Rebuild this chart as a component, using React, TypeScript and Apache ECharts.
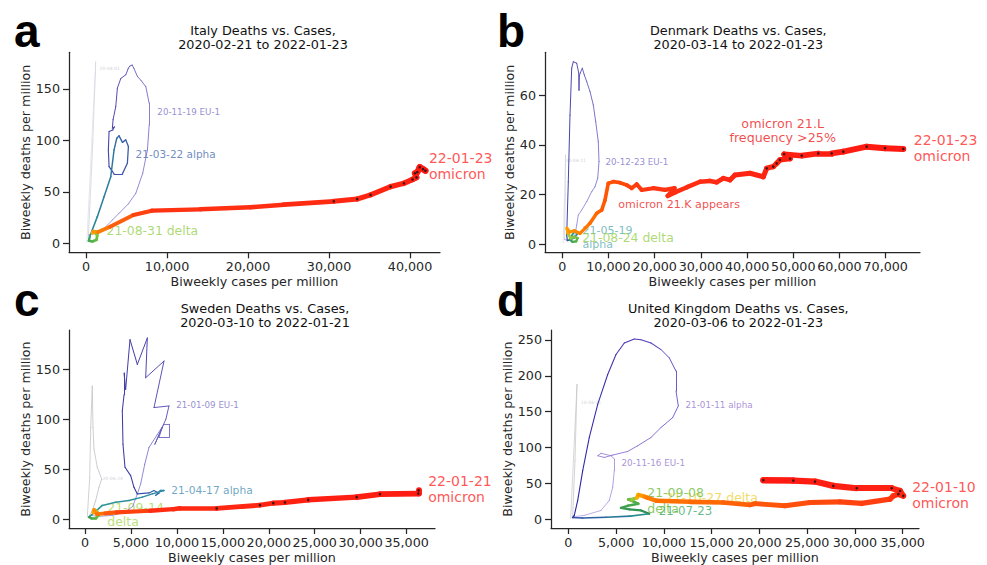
import React, { useEffect, useRef } from "react";
import * as echarts from "echarts";

type Pt = [number, number];

// ===================== DATA (x = biweekly cases per million, y = biweekly deaths per million) =====================
// ---- Italy ----
const italyWave1: Pt[] = [[100, 1], [1200, 176], [1150, 165], [850, 100], [500, 40], [300, 8]];
const italyEU1: Pt[] = [[300, 8], [2020, 12.9], [3257, 22.6], [4082, 29.2], [5200, 38], [6148, 48.6], [7000, 68], [7583, 90.7], [7800, 115], [7793, 136], [7385, 152], [6800, 158], [6346, 162], [5900, 170], [5700, 173], [5400, 172], [5233, 170], [4911, 163.6], [4292, 160], [3872, 150.6], [3674, 132.8], [3340, 120], [3253, 111.8]];
const italyAlpha: Pt[] = [[3253, 111.8], [3500, 113], [3300, 110], [2845, 108.5], [2759, 90.7], [2845, 74.5], [3464, 67.4], [4490, 67.4], [5109, 77.8], [5233, 93.9], [4911, 100.4], [4500, 98], [4082, 104.3], [3797, 102], [3464, 90.7], [3056, 64.7], [2227, 45.3], [1398, 25.9], [458, 6.4]];
const italyDelta: Pt[] = [[458, 6.4], [350, 2.5], [800, 1.8], [1300, 3.5], [1400, 8], [1000, 11], [800, 10]];
const italyOmicron: Pt[] = [[800, 10], [903, 11.3], [1500, 11], [2969, 16.1], [5851, 27.5], [8127, 31.7], [14100, 33], [20287, 35], [24410, 37.5], [30590, 40.8], [33480, 43], [35130, 47], [37600, 55], [39250, 58.3], [40300, 62], [40800, 64], [40600, 68], [40900, 69], [41200, 74], [41600, 72], [41900, 70.5]];
const italyXTicks = [0, 10000, 20000, 30000, 40000];
const italyYTicks = [0, 50, 100, 150];
const italyNotes = [
  { text: "20-04-01", x: 1608, y: 169.4, kind: "tiny" },
  { text: "20-11-19 EU-1", x: 8746, y: 127.6, kind: "eu1" },
  { text: "21-03-22 alpha", x: 6061, y: 87.1, kind: "alphaBlue" },
  { text: "21-08-31 delta", x: 2474, y: 12.6, kind: "delta" },
  { text: "22-01-23\nomicron", x: 42268, y: 75.1, kind: "omicron" },
];

// ---- Denmark ----
const denWave1: Pt[] = [[200, 0.5], [700, 36], [650, 20], [500, 2]];
const denEU1: Pt[] = [[500, 2], [952, 1.7], [2000, 2.5], [2749, 3.7], [3117, 7.8], [3463, 11.8], [4199, 13.8], [5282, 17.2], [6364, 21.2], [7078, 23.2], [7662, 26.6], [7944, 33.3], [7792, 41.3], [7229, 49.4], [6710, 56.1], [5996, 61.5], [5282, 65.5], [4762, 68.2], [4329, 70.9], [3900, 69], [3700, 68], [3615, 62], [3550, 69], [3117, 72.9], [2381, 73.5], [2035, 70.9], [1667, 52], [1299, 25.2], [952, 3.7]];
const denAlpha: Pt[] = [[952, 3.7], [1100, 1.5], [1800, 1.8], [2500, 2.5], [3200, 4], [2800, 5.5], [2200, 4], [1600, 2]];
const denDelta: Pt[] = [[1600, 2], [2200, 1], [3000, 1.2], [3300, 2.5], [2600, 3], [1800, 2.5], [1200, 4.5]];
const denOmicron: Pt[] = [[1200, 4.5], [1000, 6.5], [1600, 5], [2600, 5.5], [3831, 4.4], [4913, 6.4], [5996, 8.5], [7446, 12.5], [8528, 13.8], [9242, 17.8], [9957, 24.6], [11039, 25.2], [12482, 24.8], [13925, 23.9], [15016, 22.6], [16104, 24.2], [17186, 21.9], [19697, 22.6], [22230, 21.9], [24300, 22.6], [22800, 19.5], [24500, 21], [27000, 23], [29805, 25.2], [31972, 25.5], [33419, 25], [34848, 26.6], [36298, 25.9], [37380, 27.9], [40627, 28.6], [43506, 27.2], [44242, 30.6], [45673, 31.3], [46404, 32.6], [47120, 34], [49300, 34.5], [48000, 36.3], [51820, 35.7], [55410, 36.6], [58310, 36.6], [60820, 37.3], [65880, 39.3], [69850, 38.7], [73810, 38.4]];
const denXTicks = [0, 10000, 20000, 30000, 40000, 50000, 60000, 70000];
const denYTicks = [0, 20, 40, 60];
const denNotes = [
  { text: "20-04-11", x: 584, y: 33.9, kind: "tiny" },
  { text: "20-12-23 EU-1", x: 9242, y: 33.3, kind: "eu1" },
  { text: "21-05-19\nalpha", x: 4264, y: 2.9, kind: "alphaTeal" },
  { text: "21-08-24 delta", x: 4199, y: 2.7, kind: "delta" },
  { text: "omicron 21.K appears", x: 11991, y: 16.1, kind: "variant" },
  { text: "omicron 21.L\nfrequency >25%", x: 47705, y: 46, kind: "variantCenter" },
  { text: "22-01-23\nomicron", x: 75974, y: 38.8, kind: "omicron" },
];

// ---- Sweden ----
const sweWave1: Pt[] = [[250, 2.3], [511, 42], [620, 91.7], [794, 133], [870, 91.7], [979, 70], [1338, 52], [1817, 40.3], [1523, 32], [1164, 18.9], [794, 8.9], [500, 4]];
const sweEU1: Pt[] = [[500, 4], [1500, 3], [3000, 4], [4300, 7], [5200, 13], [5694, 25.4], [6057, 35.4], [6500, 55], [6963, 71.8], [8596, 95], [9139, 95], [9139, 81.8], [8051, 81.8], [8415, 92], [7600, 75], [8800, 100], [9139, 113.2], [7507, 111.6], [8596, 158], [6604, 141.4], [6782, 181], [5694, 154.6], [4896, 179.4], [4424, 129.7], [4250, 146], [4250, 124.5], [4060, 108.3], [4134, 75], [4352, 52], [4972, 43.7], [5331, 32], [5694, 25.4]];
const sweAlpha: Pt[] = [[5694, 25.4], [6963, 26.4], [7507, 28.8], [8051, 26.1], [7700, 24], [8200, 29], [8596, 28.8], [7325, 25.5], [6234, 22.2], [4787, 18.9], [3340, 17.2], [1882, 13.9], [1338, 9.5], [435, 2.3]];
const sweDelta: Pt[] = [[435, 2.3], [700, 1.2], [1200, 1.5], [1500, 4], [1300, 8], [900, 7]];
const sweOmicron: Pt[] = [[900, 7], [1000, 9.5], [1273, 5.3], [2200, 6], [3449, 7], [7072, 8.6], [9607, 10.2], [10300, 11], [14329, 10.9], [19040, 14.2], [20487, 16.2], [21760, 16.9], [24295, 19.5], [29560, 22.2], [32096, 25.1], [36267, 25.8], [36300, 29]];
const sweXTicks = [0, 5000, 10000, 15000, 20000, 25000, 30000, 35000];
const sweYTicks = [0, 50, 100, 150];
const sweNotes = [
  { text: "20-06-24", x: 1850, y: 41, kind: "tiny" },
  { text: "21-01-09 EU-1", x: 9868, y: 113.8, kind: "eu1" },
  { text: "21-04-17 alpha", x: 9324, y: 28.8, kind: "alphaTealBlue" },
  { text: "21-09-14\ndelta", x: 2361, y: 4.8, kind: "deltaBig" },
  { text: "22-01-21\nomicron", x: 37286, y: 30.1, kind: "omicron" },
];

// ---- United Kingdom ----
const ukWave1: Pt[] = [[250, 1], [911, 188], [701, 81.5], [450, 3]];
const ukEU1: Pt[] = [[450, 3], [1675, 5.1], [3423, 12], [4291, 26], [4647, 44.4], [4815, 67.6], [4815, 83.8], [4469, 88.4], [3423, 91.7], [3077, 88.4], [3768, 86], [4647, 89.3], [6217, 94.4], [7264, 102.3], [8656, 113.9], [9703, 127.8], [10928, 141.7], [11514, 157.9], [11273, 178.7], [11273, 206.5], [10571, 225], [9703, 236.6], [8656, 245.8], [7610, 250.4], [6908, 251.4], [5862, 245.8], [4993, 229.6], [4124, 201.8], [3077, 160.1], [2198, 113.9], [1507, 67.6], [984, 26], [628, 5.1]];
const ukAlphaTail: Pt[] = [[628, 5.1], [450, 2], [1500, 1.5], [4000, 2.5], [6500, 4], [8480, 7.4]];
const ukDelta: Pt[] = [[8480, 7.4], [7610, 12], [6385, 13.4], [5516, 15.7], [6217, 18.5], [7327, 21.3], [6741, 25], [6280, 27.3], [6908, 28.2], [6600, 26.5], [7200, 30]];
const ukOmicron: Pt[] = [[7200, 30], [7327, 33.8], [7950, 31.5], [8206, 30.1], [9253, 25.4], [12738, 24], [16224, 23.1], [19016, 19.9], [19600, 21.5], [22682, 18.5], [25299, 23.1], [28439, 24], [30710, 21.8], [33671, 27.8], [34019, 32.4], [34541, 34.7], [35064, 32.4], [34720, 39.3], [33850, 43], [30190, 43], [27740, 46.3], [25823, 52.3], [23551, 53.7], [20411, 54.2]];
const ukXTicks = [0, 5000, 10000, 15000, 20000, 25000, 30000, 35000];
const ukYTicks = [0, 50, 100, 150, 200, 250];
const ukNotes = [
  { text: "20-04-21", x: 1256, y: 162.5, kind: "tiny" },
  { text: "21-01-11 alpha", x: 12215, y: 159.7, kind: "eu1Purple" },
  { text: "20-11-16 EU-1", x: 5516, y: 77.8, kind: "eu1Purple" },
  { text: "21-10-27 delta", x: 10121, y: 30.1, kind: "deltaYellow" },
  { text: "21-07-23", x: 9420, y: 10.7, kind: "deltaDark" },
  { text: "21-09-08\ndelta", x: 8206, y: 26, kind: "deltaUK" },
  { text: "22-01-10\nomicron", x: 35943, y: 33.3, kind: "omicron" },
];

// ===================== STYLES =====================
const FONT = "'DejaVu Sans', sans-serif";
const INK = "#262626";

const NOTE_STYLE: Record<string, any> = {
  tiny: { color: "#c4c4cc", size: 4.5, lh: 6 },
  eu1: { color: "#7a6fc6", size: 8.7, lh: 10 },
  eu1Purple: { color: "#9276cc", size: 8.8, lh: 10 },
  alphaBlue: { color: "#4a6eb0", size: 10.5, lh: 12 },
  alphaTeal: { color: "#5aaeb0", size: 11, lh: 14.3 },
  alphaTealBlue: { color: "#4a8fb4", size: 10.7, lh: 12 },
  delta: { color: "#98d050", size: 12.4, lh: 14 },
  deltaBig: { color: "#a8d658", size: 12.5, lh: 14.4 },
  deltaYellow: { color: "#eed23a", size: 12.5, lh: 14 },
  deltaDark: { color: "#3ea868", size: 11.8, lh: 14 },
  deltaUK: { color: "#6cbc3c", size: 12.5, lh: 16 },
  variant: { color: "#ee1c1c", size: 11.1, lh: 13 },
  variantCenter: { color: "#ee1c1c", size: 12.7, lh: 14, center: true },
  omicron: { color: "#ff2a2a", size: 14, lh: 16 },
};

const GRAYS = ["#d8d8e0", "#c6c6d6"];

const PANELS = [
  {
    title: ["Italy Deaths vs. Cases,", "2020-02-21 to 2022-01-23"], titleX: 263, titleY: 30, letter: "a", letterX: 14, letterY: 31,
    grid: { left: 69, top: 52.3, width: 371, height: 200 }, xr: [-2100, 43700], yr: [-8.7, 185.4],
    xt: italyXTicks, yt: italyYTicks, yGap: 36, notes: italyNotes,
    phases: [
      { pts: italyWave1, colors: GRAYS, widths: [0.6, 0.7] },
      { pts: italyEU1, colors: ["#9088d4", "#7a70c8", "#6058b8", "#4a40a8"], widths: [0.8, 1.0] },
      { pts: italyAlpha, colors: ["#4a40a8", "#3a5aac", "#2a8a96"], widths: [1.0, 1.6] },
      { pts: italyDelta, colors: ["#2a9a70", "#60bb40", "#a0d040"], widths: [2.2, 3.2] },
      { pts: italyOmicron, colors: ["#f5c000", "#ff3412", "#ff2612", "#ff2012", "#ff1a12"], widths: [3.5, 6.5], dotsFrom: 9 },
    ],
  },
  {
    title: ["Denmark Deaths vs. Cases,", "2020-03-14 to 2022-01-23"], titleX: 738.3, titleY: 30, letter: "b", letterX: 497, letterY: 31,
    grid: { left: 545, top: 52.3, width: 375, height: 200 }, xr: [-3745, 77424], yr: [-3.2, 77.3],
    xt: denXTicks, yt: denYTicks, yGap: 28, notes: denNotes,
    phases: [
      { pts: denWave1, colors: GRAYS, widths: [0.6, 0.7] },
      { pts: denEU1, colors: ["#a098dc", "#7e76cc", "#5a50b8", "#4040a8"], widths: [0.8, 1.0] },
      { pts: denAlpha, colors: ["#3a48a4", "#2f8a9a", "#2ea080"], widths: [1.2, 1.8] },
      { pts: denDelta, colors: ["#2f9a5a", "#60b840", "#a8d040"], widths: [2.0, 3.0] },
      { pts: denOmicron, colors: ["#ffa800", "#ff5a00", "#ff3412", "#ff2812", "#ff2012", "#ff1a12"], widths: [3.0, 6.0], dotsFrom: 31 },
    ],
  },
  {
    title: ["Sweden Deaths vs. Cases,", "2020-03-10 to 2022-01-21"], titleX: 265, titleY: 308.3, letter: "c", letterX: 14, letterY: 300,
    grid: { left: 69, top: 330, width: 366, height: 199 }, xr: [-1741, 38085], yr: [-8.6, 189],
    xt: sweXTicks, yt: sweYTicks, yGap: 36, notes: sweNotes,
    phases: [
      { pts: sweWave1, colors: ["#c8c8c8", "#b8b8c8"], widths: [0.8, 0.8] },
      { pts: sweEU1, colors: ["#9a92d8", "#7068c4", "#4a42ac", "#3a3aa0"], widths: [0.8, 1.1] },
      { pts: sweAlpha, colors: ["#3a50a8", "#2f8aa6", "#2a9a8a"], widths: [1.1, 1.7] },
      { pts: sweDelta, colors: ["#2f9a5a", "#60b840", "#a8d040"], widths: [2.2, 3.2] },
      { pts: sweOmicron, colors: ["#ffb000", "#ff2c12", "#ff2212", "#ff1a12"], widths: [3.5, 6.0], dotsFrom: 8 },
    ],
  },
  {
    title: ["United Kingdom Deaths vs. Cases,", "2020-03-06 to 2022-01-23"], titleX: 738.3, titleY: 308.3, letter: "d", letterX: 497, letterY: 300,
    grid: { left: 551, top: 330, width: 368, height: 199 }, xr: [-1811, 36707], yr: [-12.5, 263.9],
    xt: ukXTicks, yt: ukYTicks, yGap: 36, notes: ukNotes,
    phases: [
      { pts: ukWave1, colors: ["#c8c8c8", "#bcbcc8"], widths: [0.7, 0.7] },
      { pts: ukEU1, colors: ["#b0a0e0", "#9a80d8", "#7a60cc", "#4a38b4", "#2420a0"], widths: [0.8, 1.1] },
      { pts: ukAlphaTail, colors: ["#2020a0", "#2a60a4", "#2a9a8a"], widths: [1.3, 1.8] },
      { pts: ukDelta, colors: ["#2a8a5a", "#48a84a", "#9ccc3a"], widths: [2.0, 3.2] },
      { pts: ukOmicron, colors: ["#ffb800", "#ff7400", "#ff5a08", "#ff4410", "#ff2c12", "#ff2012", "#ff1a12"], widths: [4.0, 6.5], dotsFrom: 15 },
    ],
  },
];

// ===================== HELPERS =====================
function hexToRgb(h: string): number[] {
  const n = parseInt(h.slice(1), 16);
  return [(n >> 16) & 255, (n >> 8) & 255, n & 255];
}
function mix(stops: string[], t: number): string {
  if (stops.length === 1) return stops[0];
  const k = (stops.length - 1) * Math.max(0, Math.min(1, t));
  const i = Math.min(Math.floor(k), stops.length - 2);
  const f = k - i;
  const a = hexToRgb(stops[i]);
  const b = hexToRgb(stops[i + 1]);
  const c = a.map((v, j) => Math.round(v + (b[j] - v) * f));
  return `rgb(${c[0]},${c[1]},${c[2]})`;
}
const fmt = (v: number) => v.toLocaleString("en-US");

function buildOption() {
  const grid: any[] = [];
  const xAxis: any[] = [];
  const yAxis: any[] = [];
  const series: any[] = [];
  const graphic: any[] = [];

  PANELS.forEach((p, idx) => {
    grid.push({ ...p.grid, containLabel: false });
    const axisCommon = {
      type: "value",
      gridIndex: idx,
      splitLine: { show: false },
      axisLine: { show: true, onZero: false, lineStyle: { color: INK, width: 1.25 } },
      nameLocation: "middle",
      nameTextStyle: { fontFamily: FONT, fontSize: 12.7, color: INK },
    };
    xAxis.push({
      ...axisCommon,
      min: p.xr[0],
      max: p.xr[1],
      name: "Biweekly cases per million",
      nameGap: 23,
      axisTick: { show: true, customValues: p.xt, length: 6, lineStyle: { color: INK, width: 1.25 } },
      axisLabel: { customValues: p.xt, formatter: fmt, fontFamily: FONT, fontSize: 12.7, color: INK, margin: 8 },
    });
    yAxis.push({
      ...axisCommon,
      min: p.yr[0],
      max: p.yr[1],
      name: "Biweekly deaths per million",
      nameGap: p.yGap,
      axisTick: { show: true, customValues: p.yt, length: 6, lineStyle: { color: INK, width: 1.25 } },
      axisLabel: { customValues: p.yt, formatter: fmt, fontFamily: FONT, fontSize: 12.7, color: INK, margin: 9 },
    });

    // trajectory segments coloured by time
    const segs: any[] = [];
    const dots: Pt[] = [];
    p.phases.forEach((ph: any) => {
      const n = ph.pts.length;
      for (let i = 0; i < n - 1; i++) {
        const t = n > 2 ? (i + 0.5) / (n - 1) : 0.5;
        const w = ph.widths[0] + (ph.widths[1] - ph.widths[0]) * t;
        segs.push({
          coords: [ph.pts[i], ph.pts[i + 1]],
          lineStyle: { color: mix(ph.colors, t), width: w, opacity: 1, cap: "round", curveness: 0 },
        });
      }
      if (ph.dotsFrom != null) {
        for (let i = ph.dotsFrom; i < n; i++) dots.push(ph.pts[i]);
      }
    });

    // annotations (below lines)
    series.push({
      type: "scatter",
      xAxisIndex: idx,
      yAxisIndex: idx,
      z: 1,
      silent: true,
      symbolSize: 1,
      itemStyle: { color: "rgba(0,0,0,0)" },
      data: p.notes.map((nt: any) => {
        const st = NOTE_STYLE[nt.kind];
        return {
          value: [nt.x, nt.y],
          label: {
            show: true,
            formatter: nt.text,
            position: st.center ? "inside" : "right",
            distance: 0,
            align: st.center ? "center" : "left",
            verticalAlign: "middle",
            color: st.color,
            fontFamily: FONT,
            fontSize: st.size,
            lineHeight: st.lh,
          },
        };
      }),
    });
    series.push({
      type: "lines",
      coordinateSystem: "cartesian2d",
      xAxisIndex: idx,
      yAxisIndex: idx,
      z: 2,
      silent: true,
      lineStyle: { opacity: 1, cap: "round", curveness: 0 },
      data: segs,
    });
    series.push({
      type: "scatter",
      xAxisIndex: idx,
      yAxisIndex: idx,
      z: 3,
      silent: true,
      symbolSize: 2.6,
      itemStyle: { color: "#111" },
      data: dots,
    });

    // titles and panel letters
    p.title.forEach((line: string, k: number) => {
      graphic.push({
        type: "text",
        x: p.titleX,
        y: p.titleY + k * 14.4,
        style: { text: line, fill: "#111", font: `12.8px ${FONT}`, align: "center", verticalAlign: "middle" },
      });
    });
    graphic.push({
      type: "text",
      x: p.letterX,
      y: p.letterY,
      style: { text: p.letter, fill: "#000", font: `bold 46px 'Liberation Sans', Arial, sans-serif`, align: "left", verticalAlign: "middle" },
    });
  });

  return { animation: false, backgroundColor: "#ffffff", grid, xAxis, yAxis, series, graphic };
}

export default function App() {
  const ref = useRef<HTMLDivElement>(null);
  useEffect(() => {
    document.body.style.margin = "0";
    if (!ref.current) return;
    const chart = echarts.init(ref.current, undefined, { renderer: "svg", width: 987, height: 565 });
    chart.setOption(buildOption() as any);
    return () => chart.dispose();
  }, []);
  return <div ref={ref} style={{ position: "fixed", left: 0, top: 0, width: 987, height: 565, background: "#fff" }} />;
}
